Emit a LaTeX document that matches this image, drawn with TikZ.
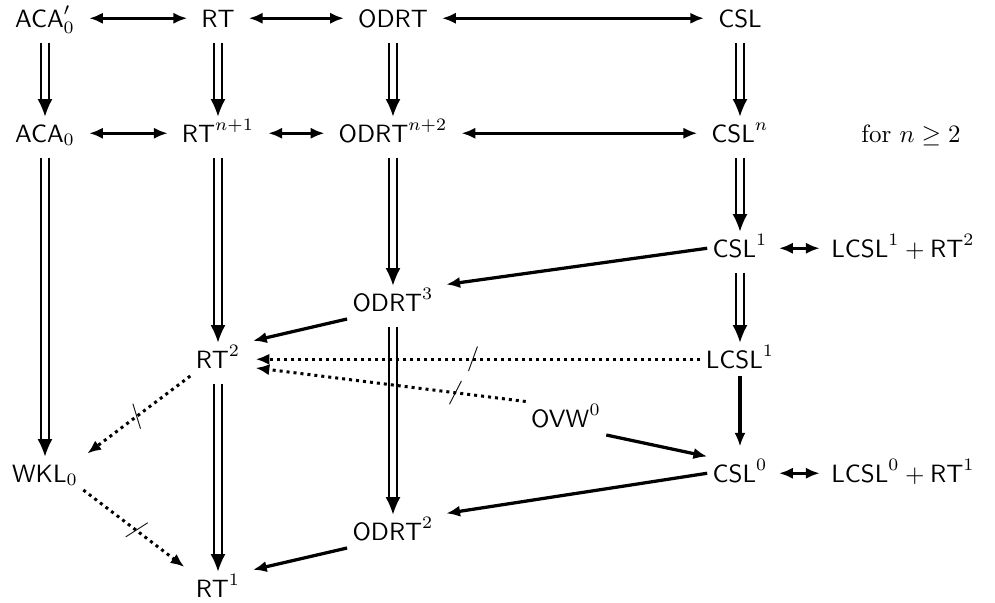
\documentclass[tikz,border=0pt]{standalone}
\usetikzlibrary{arrows.meta}
\begin{document}
\begin{tikzpicture}[x=0.4pt,y=-0.4pt,
  lbl/.style={anchor=base, inner xsep=2pt, inner ysep=2pt, text height=0.8em, text depth=0.1em},
  hto/.style={line width=1.3pt, -{Latex[length=5.5pt,width=4.5pt]}},
  biarrow/.style={line width=1.3pt, {Latex[length=5.5pt,width=4.5pt]}-{Latex[length=5.5pt,width=4.5pt]}, shorten <=3.5pt, shorten >=3.5pt},
  dotarrow/.style={line width=1.2pt, dash pattern=on 1.2pt off 1.6pt, -{Latex[length=5.5pt,width=4.5pt]}},
  dbl/.style={draw=white, line width=0.5pt, -{Latex[color=black,length=7pt,width=6pt]}, shorten <=3pt,
    preaction={draw=black, double=white, double distance=2.2pt, line width=0.9pt, -, shorten >=6pt}},
  neg/.style={sloped, inner sep=0pt, solid}
]
\useasboundingbox (0,0) rectangle (995,602);
\node[lbl] (acap) at (45,27) {$\mathsf{ACA}_0'$};
\node[lbl] (rt) at (218,27) {$\mathsf{RT}$};
\node[lbl] (odrt) at (393,27) {$\mathsf{ODRT}$};
\node[lbl] (csl) at (740,27) {$\mathsf{CSL}$};
\node[lbl] (aca) at (45,142) {$\mathsf{ACA}_0$};
\node[lbl] (rtn) at (218,142) {$\mathsf{RT}^{n+1}$};
\node[lbl] (odrtn) at (393,142) {$\mathsf{ODRT}^{n+2}$};
\node[lbl] (csln) at (740,142) {$\mathsf{CSL}^n$};
\node[lbl] (forn) at (911,142) {for $n\geq 2$};
\node[lbl] (csl1) at (740,257) {$\mathsf{CSL}^1$};
\node[lbl] (lr12) at (903,257) {$\mathsf{LCSL}^1+\mathsf{RT}^2$};
\node[lbl] (odrt3) at (393,311) {$\mathsf{ODRT}^3$};
\node[lbl] (rt2) at (218,368) {$\mathsf{RT}^2$};
\node[lbl] (lcsl1) at (740,368) {$\mathsf{LCSL}^1$};
\node[lbl] (ovw0) at (566,427) {$\mathsf{OVW}^0$};
\node[lbl] (wkl0) at (45,482) {$\mathsf{WKL}_0$};
\node[lbl] (csl0) at (740,482) {$\mathsf{CSL}^0$};
\node[lbl] (lr01) at (903,482) {$\mathsf{LCSL}^0+\mathsf{RT}^1$};
\node[lbl] (odrt2) at (393,540) {$\mathsf{ODRT}^2$};
\node[lbl] (rt1) at (218,597) {$\mathsf{RT}^1$};

\draw[biarrow] (acap) -- (rt);
\draw[biarrow] (rt) -- (odrt);
\draw[biarrow] (odrt) -- (csl);
\draw[biarrow] (aca) -- (rtn);
\draw[biarrow] (rtn) -- (odrtn);
\draw[biarrow] (odrtn) -- (csln);
\draw[biarrow, shorten <=2.5pt, shorten >=2.5pt] (csl1) -- (lr12);
\draw[biarrow, shorten <=2.5pt, shorten >=2.5pt] (csl0) -- (lr01);

\draw[dbl] (acap) -- (aca);
\draw[dbl] (rt) -- (rtn);
\draw[dbl] (odrt) -- (odrtn);
\draw[dbl] (csl) -- (csln);
\draw[dbl] (aca) -- (wkl0);
\draw[dbl] (rtn) -- (rt2);
\draw[dbl] (odrtn) -- (odrt3);
\draw[dbl] (csln) -- (csl1);
\draw[dbl] (csl1) -- (lcsl1);
\draw[dbl] (rt2) -- (rt1);
\draw[dbl] (odrt3) -- (odrt2);

\draw[hto, shorten >=4pt] (lcsl1) -- (csl0);
\draw[hto, shorten >=3pt] (csl1.west) -- (odrt3.north east);
\draw[hto, shorten >=3pt] (odrt3.south west) -- (rt2.north east);
\draw[hto] (ovw0.south east) -- (csl0.north west);
\draw[hto, shorten >=3pt] (csl0.west) -- (odrt2.north east);
\draw[hto, shorten >=3pt] (odrt2.south west) -- (rt1.north east);

\draw[dotarrow, shorten >=4pt] (lcsl1) -- node[neg]{$/$} (rt2);
\draw[dotarrow, shorten >=4pt] (ovw0.north west) -- node[neg, pos=0.25]{$/$} (rt2.-15);
\draw[dotarrow, shorten >=2pt] (rt2.south west) -- node[neg]{$/$} (wkl0.north east);
\draw[dotarrow, shorten >=3pt] (wkl0.south east) -- node[neg]{$/$} (rt1.north west);
\end{tikzpicture}
\end{document}
